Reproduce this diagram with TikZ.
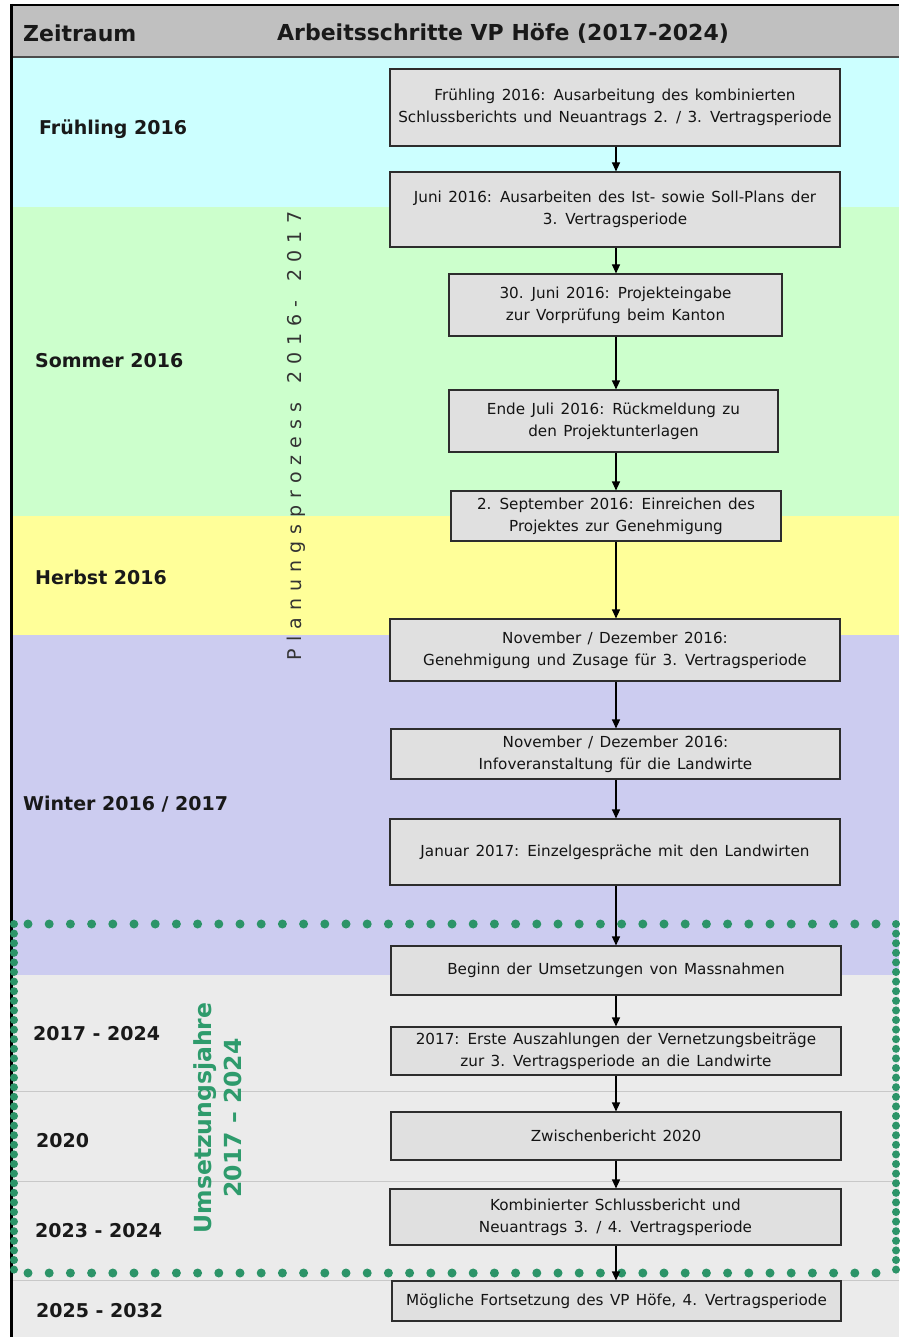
\documentclass[tikz,border=0pt]{standalone}
\usepackage{fontspec}
\setmainfont{DejaVu Sans}
\usetikzlibrary{arrows.meta}
\definecolor{cyanbg}{RGB}{204,255,255}
\definecolor{greenbg}{RGB}{204,255,204}
\definecolor{yellowbg}{RGB}{255,255,153}
\definecolor{lavbg}{RGB}{204,204,240}
\definecolor{graybg}{RGB}{235,235,235}
\definecolor{headbg}{RGB}{192,192,192}
\definecolor{boxfill}{RGB}{224,224,224}
\definecolor{boxline}{RGB}{45,45,45}
\definecolor{textdark}{RGB}{20,20,20}
\definecolor{umgreen}{RGB}{46,155,108}
\definecolor{dotgreen}{RGB}{44,148,104}
\definecolor{sepline}{RGB}{200,200,200}
\newcommand\boxfont{\fontsize{15.2}{22}\selectfont\spaceskip=6.4pt plus 1pt minus 1pt\relax}
\tikzset{
  stepbox/.style={draw=boxline, fill=boxfill, line width=1.1pt, inner sep=0pt, align=center,
    font=\boxfont, text=textdark},
  lbl/.style={anchor=west, inner sep=0pt, font=\fontsize{19}{22}\selectfont\bfseries, text=black!90},
  hdr/.style={anchor=west, inner sep=0pt, font=\fontsize{22}{24}\selectfont\bfseries, text=black!90},
  arr/.style={-{Triangle[length=9pt,width=8pt]}, line width=1.1pt, black},
  hdots/.style={dotgreen, line width=9pt, line cap=round, dash pattern=on 0pt off 21.2pt},
  vdots/.style={dotgreen, line width=8pt, line cap=round, dash pattern=on 0pt off 9.6pt},
}
\begin{document}
\begin{tikzpicture}[x=1pt,y=-1pt]
\useasboundingbox (0,0) rectangle (899,1337);
\fill[white] (0,0) rectangle (899,1337);
% background bands
\fill[cyanbg] (12,57) rectangle (899,207);
\fill[greenbg] (12,207) rectangle (899,516);
\fill[yellowbg] (12,516) rectangle (899,635);
\fill[lavbg] (12,635) rectangle (899,975);
\fill[graybg] (12,975) rectangle (899,1337);
\foreach \yy in {1091,1181,1280} \draw[sepline, line width=0.8pt] (12,\yy) -- (899,\yy);
% header
\fill[headbg] (12,5) rectangle (899,56);
\draw[black, line width=2.5pt] (10,5) -- (899,5);
\draw[black!70, line width=2pt] (12,57) -- (899,57);
\draw[black, line width=2.5pt] (11.5,4) -- (11.5,1337);
\node[hdr] (hz) at (23,33) {Zeitraum};
\node[hdr] (ha) at (277,33) {Arbeitsschritte VP Höfe (2017-2024)};
% left labels
\node[lbl] (l1) at (39,129) {Frühling 2016};
\node[lbl] (l2) at (35,361) {Sommer 2016};
\node[lbl] (l3) at (35,577) {Herbst 2016};
\node[lbl] (l4) at (23,804) {Winter 2016 / 2017};
\node[lbl] (l5) at (33,1034) {2017 - 2024};
\node[lbl] (l6) at (36,1141) {2020};
\node[lbl] (l7) at (35,1231) {2023 - 2024};
\node[lbl] (l8) at (36,1311) {2025 - 2032};
% vertical texts
\node[rotate=90, inner sep=0pt, font=\fontsize{19}{20}\selectfont\addfontfeature{LetterSpace=37}, text=black!80] (plan) at (296,436) {Planungsprozess\hspace{6pt} 2016-\hspace{6pt} 2017};
\node[rotate=90, inner sep=0pt, align=center, font=\fontsize{23.5}{30}\selectfont\bfseries, text=umgreen] (umz) at (218,1118) {Umsetzungsjahre\\2017 – 2024};
% dotted frame
\draw[hdots] (28,924) -- (896,924);
\draw[hdots] (28,1273) -- (896,1273);
\draw[vdots] (14,924) -- (14,1273);
\draw[vdots] (896,924) -- (896,1273);
% boxes
\node[stepbox, minimum width=450pt, minimum height=77pt] (b1) at (615,107.5) {Frühling 2016: Ausarbeitung des kombinierten\\Schlussberichts und Neuantrags 2. / 3. Vertragsperiode};
\node[stepbox, minimum width=450pt, minimum height=75pt] (b2) at (615,209.5) {Juni 2016: Ausarbeiten des Ist- sowie Soll-Plans der\\3. Vertragsperiode};
\node[stepbox, minimum width=333pt, minimum height=62pt] (b3) at (615.5,305) {30. Juni 2016: Projekteingabe\\zur Vorprüfung beim Kanton};
\node[stepbox, minimum width=329pt, minimum height=62pt] (b4) at (613.5,421) {Ende Juli 2016: Rückmeldung zu\\den Projektunterlagen};
\node[stepbox, minimum width=330pt, minimum height=50pt] (b5) at (616,516) {2. September 2016: Einreichen des\\Projektes zur Genehmigung};
\node[stepbox, minimum width=450pt, minimum height=62pt] (b6) at (615,650) {November / Dezember 2016:\\Genehmigung und Zusage für 3. Vertragsperiode};
\node[stepbox, minimum width=449pt, minimum height=50pt] (b7) at (615.5,754) {November / Dezember 2016:\\Infoveranstaltung für die Landwirte};
\node[stepbox, minimum width=450pt, minimum height=66pt] (b8) at (615,852) {Januar 2017: Einzelgespräche mit den Landwirten};
\node[stepbox, minimum width=450pt, minimum height=49pt] (b9) at (616,970.5) {Beginn der Umsetzungen von Massnahmen};
\node[stepbox, minimum width=450pt, minimum height=48pt] (b10) at (616,1051) {2017: Erste Auszahlungen der Vernetzungsbeiträge\\zur 3. Vertragsperiode an die Landwirte};
\node[stepbox, minimum width=450pt, minimum height=48pt] (b11) at (616,1136) {Zwischenbericht 2020};
\node[stepbox, minimum width=451pt, minimum height=56pt] (b12) at (615.5,1217) {Kombinierter Schlussbericht und\\Neuantrags 3. / 4. Vertragsperiode};
\node[stepbox, minimum width=449pt, minimum height=40pt] (b13) at (616.5,1301) {Mögliche Fortsetzung des VP Höfe, 4. Vertragsperiode};
% arrows
\coordinate (ax) at (616,0);
\foreach \a/\b in {b1/b2,b2/b3,b3/b4,b4/b5,b5/b6,b6/b7,b7/b8,b8/b9,b9/b10,b10/b11,b11/b12,b12/b13}
  \draw[arr] (\a.south -| ax) -- (\b.north -| ax);
\end{tikzpicture}
\end{document}
